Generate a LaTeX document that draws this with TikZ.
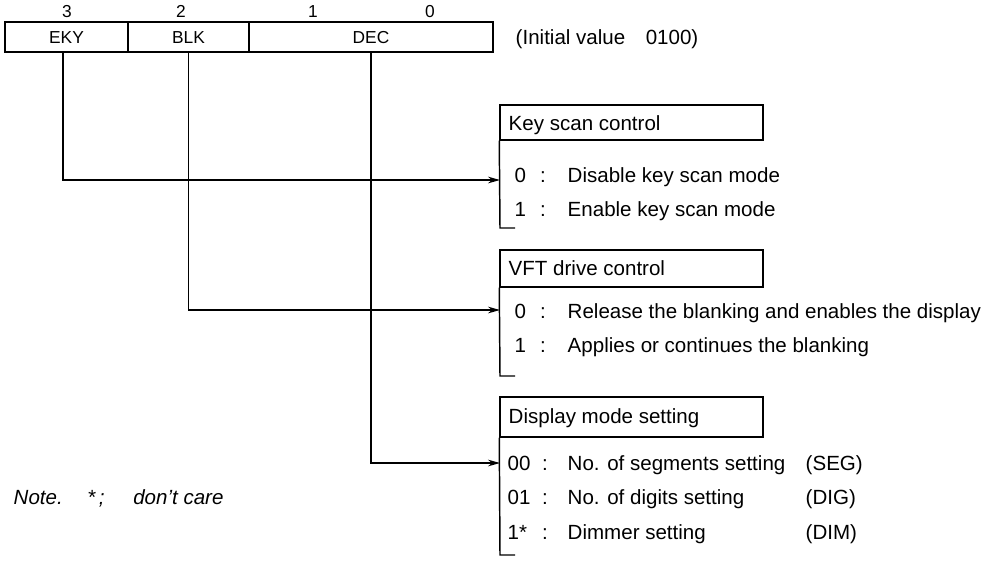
\documentclass[tikz,border=0pt]{standalone}
\usepackage{fontspec}
\setmainfont{Liberation Sans}
\usetikzlibrary{arrows.meta,fit,calc}
\begin{document}
\begin{tikzpicture}[x=0.75pt,y=-0.75pt,
  line width=1.1pt,
  every node/.style={font=\fontsize{15.4}{18}\selectfont, inner sep=0pt, text height=11.2pt, text depth=0pt},
  cell/.style={draw, inner sep=0pt},
  txt/.style={anchor=west},
  reg/.style={font=\fontsize{13}{15}\selectfont, text height=9.4pt},
  arr/.style={-{Stealth[length=9pt,width=5pt]}}]
\useasboundingbox (0,0) rectangle (991,562);

% register
\node[cell, fit={(5,22) (128,52)}, label={[reg]center:EKY}] (eky) {};
\node[cell, fit={(128,22) (249,52)}, label={[reg]center:BLK}] (blk) {};
\node[cell, fit={(249,22) (493,52)}, label={[reg]center:DEC}] (dec) {};
\node[reg] (b3) at (67,11) {3};
\node[reg] (b2) at (181,11) {2};
\node[reg] (b1) at (313,11) {1};
\node[reg] (b0) at (430,11) {0};
\node[txt] (init) at (515,37) {(Initial value\hspace{1em}0100)};

% key scan control
\node[cell, fit={(500,105) (763,140)}] (kh) {};
\node[txt] (kht) at (508,123) {Key scan control};
\draw (kh.south west) -- (500,228) -- (515,228);
\node[txt] (k0v) at (514,175) {0};
\node (k0c) at (543,175) {:};
\node[txt] (k0t) at (567,175) {Disable key scan mode};
\node[txt] (k1v) at (514,209) {1};
\node (k1c) at (543,209) {:};
\node[txt] (k1t) at (567,209) {Enable key scan mode};
\coordinate (kin) at (500,180);

% VFT drive control
\node[cell, fit={(500,250) (763,287)}] (vh) {};
\node[txt] (vht) at (508,268) {VFT drive control};
\draw (vh.south west) -- (500,376) -- (515,376);
\node[txt] (v0v) at (514,311) {0};
\node (v0c) at (543,311) {:};
\node[txt] (v0t) at (567,311) {Release the blanking and enables the display};
\node[txt] (v1v) at (514,345) {1};
\node (v1c) at (543,345) {:};
\node[txt] (v1t) at (567,345) {Applies or continues the blanking};
\coordinate (vin) at (500,310);

% Display mode setting
\node[cell, fit={(500,397) (763,437)}] (dh) {};
\node[txt] (dht) at (508,416) {Display mode setting};
\draw (dh.south west) -- (500,555) -- (515,555);
\node[txt] (d0v) at (507,463) {00};
\node (d0c) at (545,463) {:};
\node[txt] (d0t) at (567,463) {No. of segments setting};
\node[txt] (d0n) at (805,463) {(SEG)};
\node[txt] (d1v) at (507,497) {01};
\node (d1c) at (545,497) {:};
\node[txt] (d1t) at (567,497) {No. of digits setting};
\node[txt] (d1n) at (805,497) {(DIG)};
\node[txt] (d2v) at (507,532) {1*};
\node (d2c) at (545,532) {:};
\node[txt] (d2t) at (567,532) {Dimmer setting};
\node[txt] (d2n) at (805,532) {(DIM)};
\coordinate (din) at (500,463);

% connectors
\draw[arr] ($(eky.south)+(-3.5,0)$) |- (kin);
\draw[arr] (blk.south) |- (vin);
\draw[arr] (dec.south) |- (din);

% note
\node[txt, font=\fontsize{15.4}{18}\selectfont\itshape] (note) at (13,497) {Note.\hspace{1.2em}*\,;\hspace{1.4em}don’t care};
\end{tikzpicture}
\end{document}
